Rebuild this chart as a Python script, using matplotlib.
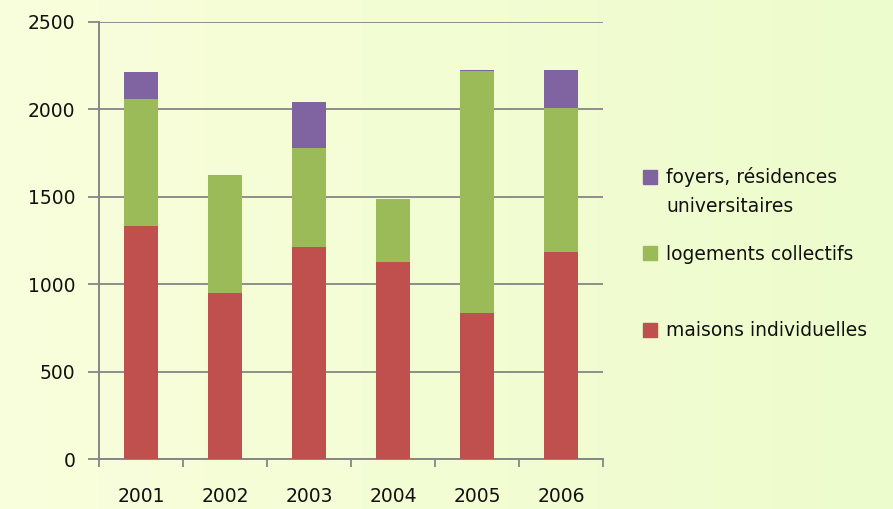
import numpy as np
import matplotlib
matplotlib.use("Agg")
import matplotlib.pyplot as plt
import matplotlib.patches as patches

# data
years = ["2001", "2002", "2003", "2004", "2005", "2006"]
maisons = [1335, 953, 1216, 1129, 837, 1186]
collectifs = [726, 673, 565, 360, 1381, 824]
foyers = [155, 0, 263, 0, 6, 217]
series_names = ["foyers, résidences\nuniversitaires", "logements collectifs", "maisons individuelles"]
yticks = [0, 500, 1000, 1500, 2000, 2500]

red = "#C0504D"
green = "#9BBB59"
purple = "#8064A2"
gray = "#868686"
txt = "#111111"
fs = 13.5

plt.rcParams["font.family"] = ["DejaVu Sans"]

fig = plt.figure(figsize=(8.93, 5.09), dpi=100)

# soft yellow-green background gradient
bg = fig.add_axes([0, 0, 1, 1], zorder=-10)
gx = np.linspace(0, 1, 200)
grad = np.tile(gx, (50, 1))
c0 = np.array([0.975, 0.995, 0.86])
c1 = np.array([0.93, 0.99, 0.80])
img = c0[None, None, :] * (1 - grad[..., None]) + c1[None, None, :] * grad[..., None]
img[:, :40] = c0 * 0.5 + img[:, :40] * 0.5
bg.imshow(img, aspect="auto", extent=[0, 1, 0, 1])
bg.axis("off")

ax = fig.add_axes([0.1109, 0.0976, 0.5644, 0.8592])
ax.patch.set_alpha(0)

x = np.arange(len(years))
w = 0.4
b1 = np.array(maisons)
b2 = b1 + np.array(collectifs)
ax.bar(x, maisons, w, color=red, zorder=3)
ax.bar(x, collectifs, w, bottom=b1, color=green, zorder=3)
ax.bar(x, foyers, w, bottom=b2, color=purple, zorder=3)

ax.set_xlim(-0.5, len(years) - 0.5)
ax.set_ylim(0, 2500)
ax.set_yticks(yticks)
ax.yaxis.grid(True, color=gray, linewidth=1.3, zorder=1)
ax.set_axisbelow(True)

ax.set_xticks(x)
ax.set_xticklabels(years)
ax.set_xticks(np.arange(-0.5, len(years)), minor=True)
ax.tick_params(axis="x", which="major", length=0, pad=20, labelsize=fs, labelcolor=txt)
ax.tick_params(axis="x", which="minor", length=6, width=1.3, color=gray, direction="out")
ax.tick_params(axis="y", length=8, width=1.3, color=gray, pad=9, labelsize=fs, labelcolor=txt)

for s in ["top", "right"]:
    ax.spines[s].set_visible(False)
for s in ["left", "bottom"]:
    ax.spines[s].set_color(gray)
    ax.spines[s].set_linewidth(1.4)

# legend drawn by hand, square aligned with first text line
leg_colors = [purple, green, red]
leg_y = [177, 253, 330]
for name, col, yy in zip(series_names, leg_colors, leg_y):
    yf = 1 - yy / 509
    fig.patches.append(patches.Rectangle((643 / 893, yf - 7 / 509), 14 / 893, 14 / 509,
                                         transform=fig.transFigure, color=col))
    for i, line in enumerate(name.split("\n")):
        fig.text(666 / 893, yf - (6.5 + 29 * i) / 509, line, fontsize=fs,
                 va="baseline", ha="left", color=txt)

fig.savefig("out.png", dpi=100)
